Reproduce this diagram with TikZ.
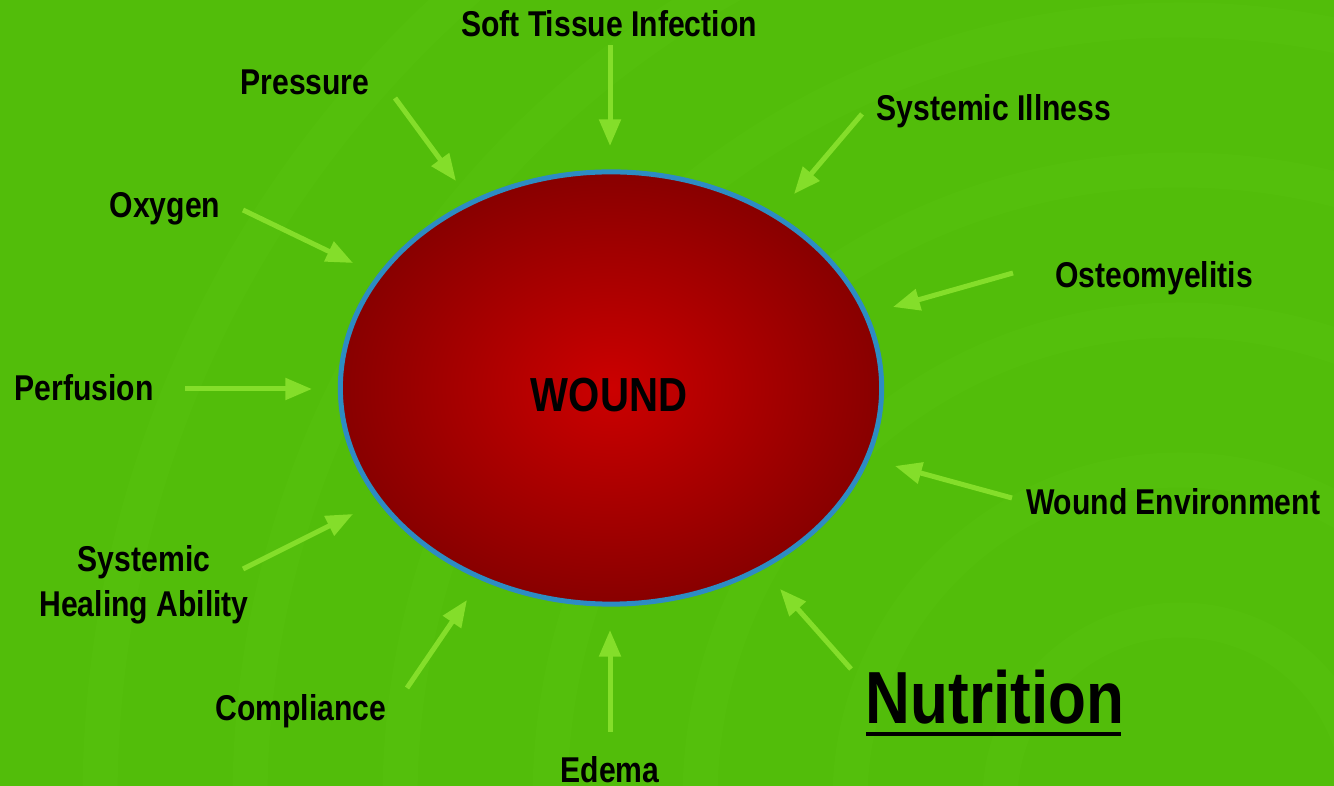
\documentclass[tikz,border=0pt]{standalone}
\usepackage{fontspec}
\setmainfont{Liberation Sans}[FakeStretch=0.84]
\usetikzlibrary{positioning}
\usetikzlibrary{arrows.meta}
\usetikzlibrary{shapes.geometric}
\definecolor{bggreen}{RGB}{82,189,10}
\definecolor{ringgreen}{RGB}{120,215,40}
\definecolor{feedgreen}{RGB}{132,222,42}
\definecolor{rimblue}{RGB}{45,140,195}
\definecolor{woundin}{RGB}{204,0,0}
\definecolor{woundout}{RGB}{136,0,0}

\begin{document}
\begin{tikzpicture}[x=0.01cm, y=-0.01cm,
    lbl/.style={font=\fontsize{10.2}{12.8}\selectfont\bfseries, inner sep=0pt, anchor=base, align=center},
    feed/.style={draw=feedgreen, line width=0.05cm, -{Triangle[length=7.6pt, width=6pt]}}]
    \fill[bggreen] (0,0) rectangle (1334,786);
    \useasboundingbox (0,0) rectangle (1334,786);

    % faint rings in the backdrop
    \begin{scope}
        \clip (0,0) rectangle (1334,786);
        \foreach \r in {180,330,480,630,780,930,1080}
            \draw[ringgreen, opacity=0.08, line width=0.35cm] (1180,800) circle (\r);
    \end{scope}

    \node (wound) [ellipse, draw=rimblue, line width=0.05cm, inner sep=0pt,
        minimum width=5.41cm, minimum height=4.32cm, inner color=woundin, outer color=woundout] at (611,388) {};
    \node (woundtxt) [lbl, font=\fontsize{13.6}{16}\selectfont\bfseries] at (609,412) {WOUND};

    \node (soft)  [lbl] at (609,37)  {Soft Tissue Infection};
    \node (pres)  [lbl] at (305,95)  {Pressure};
    \node (sysill)[lbl] at (994,121) {Systemic Illness};
    \node (oxy)   [lbl] at (165,218) {Oxygen};
    \node (osteo) [lbl] at (1154,288) {Osteomyelitis};
    \node (perf)  [lbl] at (84,401)  {Perfusion};
    \node (envir) [lbl] at (1173,515) {Wound Environment};
    \node (heal)  [lbl] at (144,617) {Systemic\\Healing Ability};
    \node (compl) [lbl] at (301,721) {Compliance};
    \node (edema) [lbl] at (610,782) {Edema};
    \node (nutr)  [lbl, font=\fontsize{21}{24}\selectfont\bfseries] at (995,723) {Nutrition};
    \draw[black, line width=0.045cm] (nutr.base west) ++(1,11) -- ++(255,0);

    % arrow ends
    \coordinate (softA) at (610,45);   \coordinate (softB) at (610,146);
    \coordinate (presA) at (395,98);   \coordinate (presB) at (456,181);
    \coordinate (sysA)  at (862,114);  \coordinate (sysB)  at (794,194);
    \coordinate (oxyA)  at (243,210);  \coordinate (oxyB)  at (353,263);
    \coordinate (ostA)  at (1013,273); \coordinate (ostB)  at (893,307);
    \coordinate (perfA) at (185,389);  \coordinate (perfB) at (312,389);
    \coordinate (envA)  at (1012,498); \coordinate (envB)  at (895,466);
    \coordinate (healA) at (243,569);  \coordinate (healB) at (353,514);
    \coordinate (compA) at (407,688);  \coordinate (compB) at (467,600);
    \coordinate (edA)   at (610,732);  \coordinate (edB)   at (610,630);
    \coordinate (nutA)  at (851,669);  \coordinate (nutB)  at (780,589);

    \draw[feed] (softA) -- (softB);
    \draw[feed] (presA) -- (presB);
    \draw[feed] (sysA) -- (sysB);
    \draw[feed] (oxyA) -- (oxyB);
    \draw[feed] (ostA) -- (ostB);
    \draw[feed] (perfA) -- (perfB);
    \draw[feed] (envA) -- (envB);
    \draw[feed] (healA) -- (healB);
    \draw[feed] (compA) -- (compB);
    \draw[feed] (edA) -- (edB);
    \draw[feed] (nutA) -- (nutB);
\end{tikzpicture}
\end{document}
